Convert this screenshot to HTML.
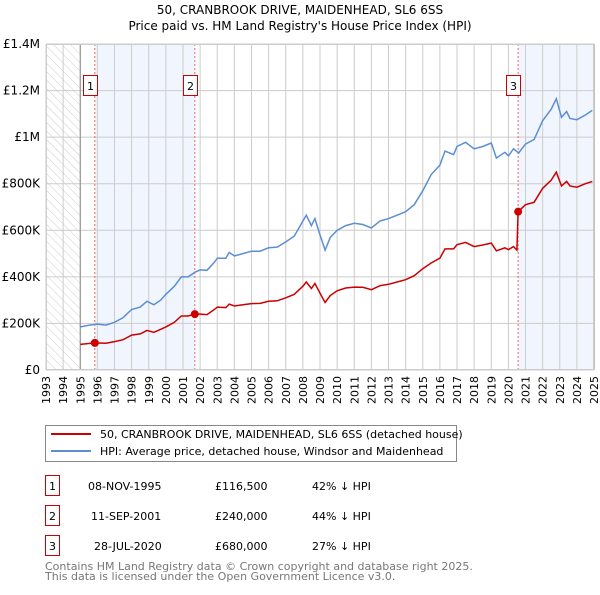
<!DOCTYPE html>
<html><head><meta charset="utf-8"><style>
body{margin:0;background:#fff;font-family:"Liberation Sans","DejaVu Sans",sans-serif;}
svg text{font-family:"DejaVu Sans","Liberation Sans",sans-serif;}
</style></head><body>
<svg id="c" width="600" height="590" xmlns="http://www.w3.org/2000/svg">
<defs><pattern id="hatch" width="6" height="6" patternUnits="userSpaceOnUse" patternTransform="rotate(-45)"><line x1="0" y1="0" x2="0" y2="6" stroke="#ccc" stroke-width="1"/></pattern></defs>
<text x="300" y="14" text-anchor="middle" font-size="12">50, CRANBROOK DRIVE, MAIDENHEAD, SL6 6SS</text>
<text x="300" y="30" text-anchor="middle" font-size="12">Price paid vs. HM Land Registry's House Price Index (HPI)</text>
<g id="plot"></g>
<g>
<rect x="45.5" y="425.5" width="411" height="36" fill="#fff" stroke="#888"/>
<line x1="51" y1="434" x2="91" y2="434" stroke="#cc0000" stroke-width="2"/>
<text x="100" y="438" font-size="11">50, CRANBROOK DRIVE, MAIDENHEAD, SL6 6SS (detached house)</text>
<line x1="51" y1="451" x2="91" y2="451" stroke="#5b8fd4" stroke-width="2"/>
<text x="100" y="455" font-size="11">HPI: Average price, detached house, Windsor and Maidenhead</text>
</g>
<g font-size="11">
<rect x="45.5" y="475.5" width="14" height="20" fill="#fff" stroke="#cc0000"/><text x="52.5" y="490" text-anchor="middle">1</text>
<text x="88" y="490">08-NOV-1995</text><text x="215" y="490">£116,500</text><text x="312" y="490">42% ↓ HPI</text>
<rect x="45.5" y="505.5" width="14" height="20" fill="#fff" stroke="#cc0000"/><text x="52.5" y="520" text-anchor="middle">2</text>
<text x="91" y="520">11-SEP-2001</text><text x="215" y="520">£240,000</text><text x="312" y="520">44% ↓ HPI</text>
<rect x="45.5" y="535.5" width="14" height="20" fill="#fff" stroke="#cc0000"/><text x="52.5" y="550" text-anchor="middle">3</text>
<text x="94" y="550">28-JUL-2020</text><text x="215" y="550">£680,000</text><text x="312" y="550">27% ↓ HPI</text>
</g>
<text x="45" y="570" font-size="11" fill="#777">Contains HM Land Registry data © Crown copyright and database right 2025.</text>
<text x="45" y="580" font-size="11" fill="#777">This data is licensed under the Open Government Licence v3.0.</text>
</svg>
<script>
const hpiYears=[1995.0,1995.5,1996.0,1996.5,1997.0,1997.5,1998.0,1998.5,1998.9,1999.3,1999.7,2000.0,2000.5,2000.9,2001.3,2001.7,2002.0,2002.4,2002.8,2003.0,2003.5,2003.7,2004.0,2004.5,2005.0,2005.5,2006.0,2006.5,2007.0,2007.5,2008.0,2008.2,2008.5,2008.7,2009.0,2009.3,2009.6,2010.0,2010.5,2011.0,2011.5,2012.0,2012.5,2013.0,2013.5,2014.0,2014.5,2015.0,2015.5,2016.0,2016.3,2016.8,2017.0,2017.5,2018.0,2018.5,2019.0,2019.3,2019.8,2020.0,2020.3,2020.6,2021.0,2021.5,2022.0,2022.5,2022.8,2023.1,2023.4,2023.6,2024.0,2024.5,2024.9];
const hpiValues=[185,192,197,193,205,225,260,270,295,280,300,325,360,400,400,420,430,428,460,480,480,505,490,500,510,510,525,528,550,575,640,665,620,650,580,515,570,600,620,630,625,610,640,650,665,680,710,770,840,880,940,925,960,978,950,960,975,910,935,920,950,932,970,990,1070,1120,1165,1085,1110,1080,1075,1095,1115];
const ppYears=[1995.0,1995.85,1996.5,1997.0,1997.5,1998.0,1998.5,1998.9,1999.3,1999.7,2000.0,2000.5,2000.9,2001.3,2001.69,2002.0,2002.4,2002.8,2003.0,2003.5,2003.7,2004.0,2004.5,2005.0,2005.5,2006.0,2006.5,2007.0,2007.5,2008.0,2008.2,2008.5,2008.7,2009.0,2009.3,2009.6,2010.0,2010.5,2011.0,2011.5,2012.0,2012.5,2013.0,2013.5,2014.0,2014.5,2015.0,2015.5,2016.0,2016.3,2016.8,2017.0,2017.5,2018.0,2018.5,2019.0,2019.3,2019.8,2020.0,2020.3,2020.5,2020.57,2021.0,2021.5,2022.0,2022.5,2022.8,2023.1,2023.4,2023.6,2024.0,2024.5,2024.9];
const ppValues=[110,116.5,115,122,130,150,155,170,162,175,185,205,232,232,240,240,238,258,270,268,283,275,280,285,286,295,297,310,325,360,378,350,372,330,290,320,340,352,356,355,345,362,368,378,388,405,435,460,480,520,520,538,548,530,537,545,512,525,517,530,515,680,710,720,780,815,850,790,810,790,785,800,810];
const saleLabels=["1","2","3"];
const saleYears=[1995.85,2001.69,2020.57];
const saleValues=[116.5,240,680];
const yTicks=[0,200,400,600,800,1000,1200,1400];
const yTickLabels=["£0","£200K","£400K","£600K","£800K","£1M","£1.2M","£1.4M"];
const xYears=[];for(let y=1993;y<=2025;y++)xYears.push(y);

const X0=46,X1=594,Y0=370,Y1=44;
const xs=y=>X0+(y-1993)*(X1-X0)/32;
const ys=v=>Y0-v*(Y0-Y1)/1400;
const NS="http://www.w3.org/2000/svg";
const g=document.getElementById('plot');
function mk(t,a){const e=document.createElementNS(NS,t);for(const k in a)e.setAttribute(k,a[k]);g.appendChild(e);return e;}

let e=mk('rect',{x:xs(1993),y:Y1,width:xs(1995)-xs(1993),height:Y0-Y1,fill:'url(#hatch)'});


e=mk('rect',{x:xs(saleYears[0]),y:Y1,width:xs(saleYears[1])-xs(saleYears[0]),height:Y0-Y1,fill:'#eef3fc',opacity:0.8});


e=mk('rect',{x:xs(saleYears[2]),y:Y1,width:X1-xs(saleYears[2]),height:Y0-Y1,fill:'#eef3fc',opacity:0.8});



xYears.forEach(y=>{
  const l=mk('line',{x1:xs(y),x2:xs(y),y1:Y1,y2:Y0,stroke:'#ccc','stroke-width':1});
  
  
  const t=mk('text',{x:0,y:0,'font-size':11,'text-anchor':'end',transform:`translate(${xs(y)+4},${Y0+6}) rotate(-90)`});
  t.textContent=y;
  
  
});
yTicks.forEach((v,i)=>{
  const l=mk('line',{x1:X0,x2:X1,y1:ys(v),y2:ys(v),stroke:'#ccc','stroke-width':1});
  
  
  const t=mk('text',{x:X0-6,y:ys(v)+4,'font-size':12,'text-anchor':'end'});
  t.textContent=yTickLabels[i];
  
  
});
e=mk('line',{x1:xs(1995),x2:xs(1995),y1:Y1,y2:Y0,stroke:'#888'});


e=mk('line',{x1:X1,x2:X1,y1:Y1,y2:Y0,stroke:'#888'});



saleYears.forEach((y,i)=>{
  const l=mk('line',{x1:xs(y),x2:xs(y),y1:Y1,y2:Y0,stroke:'#e66','stroke-width':1,'stroke-dasharray':'2,2'});
  
  
});

const pts=(xa,va)=>xa.map((y,i)=>xs(y).toFixed(1)+','+ys(va[i]).toFixed(1)).join(' ');
e=mk('polyline',{points:pts(hpiYears,hpiValues),fill:'none',stroke:'#5b8fd4','stroke-width':1.5});


e=mk('polyline',{points:pts(ppYears,ppValues),fill:'none',stroke:'#cc0000','stroke-width':1.5});



saleYears.forEach((y,i)=>{
  const c=mk('circle',{cx:xs(y),cy:ys(saleValues[i]),r:4,fill:'#cc0000'});
  
  
  const bx=xs(y)-(i==2?11:4)-14;
  const r=mk('rect',{x:Math.round(xs(y))-11.5,y:75.5,width:14,height:20,fill:'#fff',stroke:'#cc0000'});
  
  
  const t=mk('text',{x:Math.round(xs(y))-4.5,y:90,'font-size':11,'text-anchor':'middle'});
  t.textContent=saleLabels[i];
  
  
});
e=mk('rect',{x:X0+0.5,y:Y1+0.5,width:X1-X0-1,height:Y0-Y1-1,fill:'none',stroke:'#ccc'});


</script>
</body></html>
